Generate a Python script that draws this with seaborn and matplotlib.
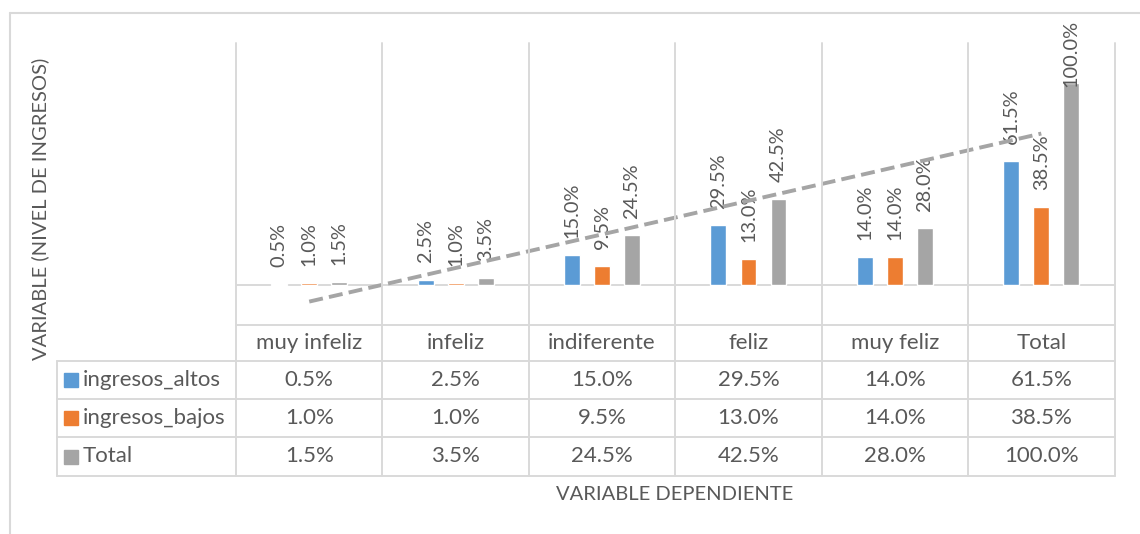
import numpy as np
import pandas as pd
import seaborn as sns
import matplotlib.pyplot as plt
from matplotlib.lines import Line2D
from matplotlib.patches import Rectangle
from matplotlib.transforms import blended_transform_factory

# datos
categorias = ['muy infeliz', 'infeliz', 'indiferente', 'feliz', 'muy feliz', 'Total']
series = ['ingresos_altos', 'ingresos_bajos', 'Total']
ingresos_altos = [0.5, 2.5, 15.0, 29.5, 14.0, 61.5]
ingresos_bajos = [1.0, 1.0, 9.5, 13.0, 14.0, 38.5]
total = [1.5, 3.5, 24.5, 42.5, 28.0, 100.0]
colores = ['#5b9bd5', '#ed7d31', '#a5a5a5']

valores = [ingresos_altos, ingresos_bajos, total]
df = pd.DataFrame({
    'categoria': categorias * 3,
    'serie': np.repeat(series, len(categorias)),
    'valor': ingresos_altos + ingresos_bajos + total,
})

sns.set_theme(style='white')
plt.rcParams['font.family'] = ['Lato', 'DejaVu Sans']
TXT = '#595959'
GRID = '#d9d9d9'

W, H = 1140, 534
fig = plt.figure(figsize=(W / 100, H / 100), dpi=100)


def fx(px):
    return px / W


def fy(py):
    return 1 - py / H


# area del grafico
ax = fig.add_axes([fx(236), fy(325), fx(1114.5) - fx(236), (325 - 43) / H])
sns.barplot(data=df, x='categoria', y='valor', hue='serie', palette=colores,
            width=0.615, gap=0.47, saturation=1, errorbar=None, legend=False,
            ax=ax, zorder=3)
ax.set_xlim(-0.5, len(categorias) - 0.5)
ax.set_ylim(-20, 120)
ax.set_axis_off()
ax.axhline(0, color=GRID, lw=1.4, zorder=2)

# etiquetas de datos
etiquetas = []
for cont, vals in zip(ax.containers, valores):
    for bar, v in zip(cont, vals):
        t = ax.annotate(f'{v:.1f}%', xy=(bar.get_x() + bar.get_width() / 2, bar.get_height()),
                        xytext=(0, 12), textcoords='offset points', rotation=90,
                        ha='center', va='bottom', color=TXT, fontsize=14.4,
                        annotation_clip=False, zorder=4)
        etiquetas.append(t)

# linea de tendencia lineal de la serie Total
xs = np.arange(len(categorias))
coef = np.polyfit(xs, total, 1)
ax.plot(xs, np.polyval(coef, xs), color='#a5a5a5', lw=2.8,
        ls=(0, (3.6, 1.6)), zorder=5)

# las etiquetas que se salen por arriba se bajan
fig.canvas.draw()
r = fig.canvas.get_renderer()
for t in etiquetas:
    bb = t.get_window_extent(r)
    tope = H - 20
    if bb.y1 > tope:
        dx, dy = t.xyann
        t.xyann = (dx, dy - (bb.y1 - tope) * 72 / 100)

# tabla de datos
trans = blended_transform_factory(ax.transData, fig.transFigure)
for b in np.arange(-0.5, len(categorias), 1.0):
    fig.add_artist(Line2D([b, b], [fy(43), fy(476)], transform=trans, color=GRID, lw=1.4))
fig.add_artist(Line2D([fx(236), fx(1114.5)], [fy(325), fy(325)], color=GRID, lw=1.4))
for py in [361, 399, 437, 476]:
    fig.add_artist(Line2D([fx(57), fx(1114.5)], [fy(py), fy(py)], color=GRID, lw=1.4))
fig.add_artist(Line2D([fx(57), fx(57)], [fy(361), fy(476)], color=GRID, lw=1.4))

for i, c in enumerate(categorias):
    fig.text(i, fy(343), c, transform=trans, ha='center', va='center',
             color=TXT, fontsize=16)

filas_y = [380, 418, 456.5]
for nombre, col, vals, py in zip(series, colores, valores, filas_y):
    fig.add_artist(Rectangle((fx(64), fy(py + 7)), fx(14), 14 / H, color=col))
    fig.text(fx(83), fy(py), nombre, ha='left', va='center', color=TXT, fontsize=16)
    for i, v in enumerate(vals):
        fig.text(i, fy(py), f'{v:.1f}%', transform=trans, ha='center', va='center',
                 color=TXT, fontsize=16)

# titulos de ejes
fig.text(fx(675), fy(495), 'VARIABLE DEPENDIENTE', ha='center', va='center',
         color=TXT, fontsize=14.5)
fig.text(fx(40), fy(209), 'VARIABLE (NIVEL DE INGRESOS)', ha='center', va='center',
         rotation=90, color=TXT, fontsize=14.5)

# borde del area del grafico
fig.add_artist(Line2D([fx(10.5), fx(10.5)], [fy(13), 0], color=GRID, lw=1.5))
fig.add_artist(Line2D([fx(10.5), 1], [fy(13), fy(13)], color=GRID, lw=1.5))

fig.savefig('out.png', dpi=100, facecolor='white')
